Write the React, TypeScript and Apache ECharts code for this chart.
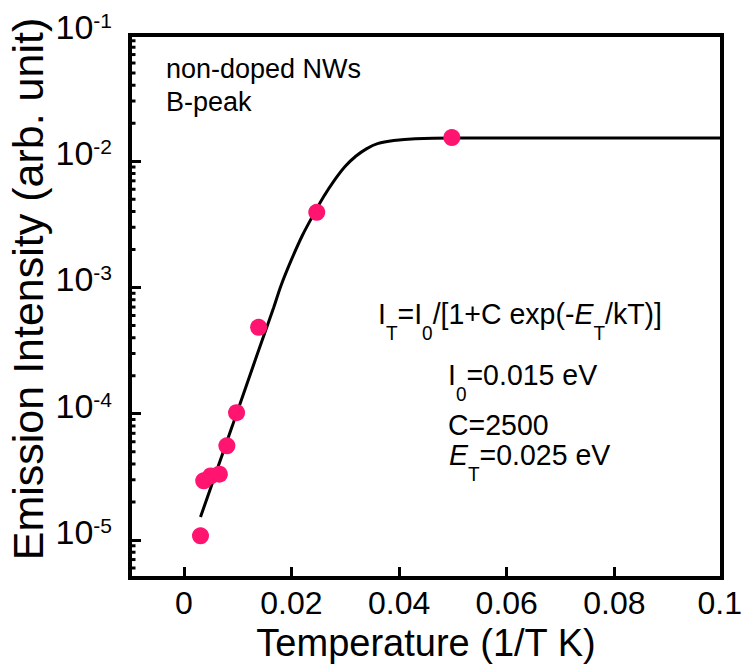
import React, { useEffect, useRef } from "react";
import * as echarts from "echarts";

const FONT = '"Liberation Sans", Arial, Helvetica, sans-serif';
const PINK = "#FF1470";

// axis ranges
const X_MIN = -0.01;
const X_MAX = 0.1;
const Y_MIN = 5e-6;
const Y_MAX = 0.1;

// tick values
const X_TICKS = [0, 0.02, 0.04, 0.06, 0.08, 0.1];
const X_TICK_LABELS = ["0", "0.02", "0.04", "0.06", "0.08", "0.1"];
const Y_MINOR_TICKS = [
  6e-6, 7e-6, 8e-6, 9e-6,
  2e-5, 3e-5, 4e-5, 5e-5, 6e-5, 7e-5, 8e-5, 9e-5,
  2e-4, 3e-4, 4e-4, 5e-4, 6e-4, 7e-4, 8e-4, 9e-4,
  2e-3, 3e-3, 4e-3, 5e-3, 6e-3, 7e-3, 8e-3, 9e-3,
  2e-2, 3e-2, 4e-2, 5e-2, 6e-2, 7e-2, 8e-2, 9e-2,
];

// measured points
const POINT_X = [0.0031, 0.0037, 0.005, 0.0066, 0.008, 0.0098, 0.0139, 0.0247, 0.0498];
const POINT_Y = [1.08e-5, 2.94e-5, 3.22e-5, 3.32e-5, 5.57e-5, 1.02e-4, 4.84e-4, 3.94e-3, 1.54e-2];

// fitted curve
const CURVE_X = [
  0.0031, 0.006, 0.009, 0.012, 0.015, 0.0167, 0.018, 0.02, 0.022, 0.024,
  0.026, 0.028, 0.03, 0.032, 0.034, 0.036, 0.039, 0.043, 0.05, 0.1,
];
const CURVE_Y = [
  1.52e-5, 3.44e-5, 7.98e-5, 1.86e-4, 4.32e-4, 6.93e-4, 1.02e-3, 1.66e-3, 2.57e-3, 3.72e-3,
  5.25e-3, 7.08e-3, 9.12e-3, 1.1e-2, 1.26e-2, 1.38e-2, 1.46e-2, 1.51e-2, 1.53e-2, 1.53e-2,
];

const X_TITLE = "Temperature (1/T K)";
const Y_TITLE = "Emission Intensity (arb. unit)";

export default function App() {
  const ref = useRef<HTMLDivElement>(null);

  useEffect(() => {
    if (!ref.current) return;
    const chart = echarts.init(ref.current, null, { renderer: "svg" });

    const richMain = { fontSize: 30, lineHeight: 33, fontFamily: FONT, color: "#000", verticalAlign: "top" };
    const richItal = { ...richMain, fontStyle: "italic" };
    const richSub = { fontSize: 20, lineHeight: 20, fontFamily: FONT, color: "#000", verticalAlign: "top", padding: [24, 0, 0, 0] };

    const option: any = {
      animation: false,
      backgroundColor: "#fff",
      grid: {
        left: 130,
        right: 20,
        top: 35,
        bottom: 86,
        show: true,
        borderColor: "#000",
        borderWidth: 4,
        backgroundColor: "transparent",
        containLabel: false,
        outerBoundsMode: "none",
      },
      xAxis: {
        type: "value",
        min: X_MIN,
        max: X_MAX,
        name: X_TITLE,
        nameLocation: "middle",
        nameGap: 42,
        nameTextStyle: { fontFamily: FONT, fontSize: 38, color: "#000" },
        axisLine: { show: true, onZero: false, lineStyle: { color: "#000", width: 4 } },
        axisTick: { show: true, inside: true, length: 11, lineStyle: { color: "#000", width: 3 }, customValues: X_TICKS },
        axisLabel: {
          customValues: X_TICKS,
          margin: 9,
          fontFamily: FONT,
          fontSize: 32,
          color: "#000",
          formatter: (v: number) => {
            const i = X_TICKS.findIndex((t) => Math.abs(t - v) < 1e-9);
            if (i < 0) return "";
            if (i === X_TICKS.length - 1) return "{r|" + X_TICK_LABELS[i] + "}";
            return X_TICK_LABELS[i];
          },
          rich: {
            r: { fontFamily: FONT, fontSize: 32, color: "#000", width: 40, align: "right" },
          },
        },
        splitLine: { show: false },
      },
      yAxis: {
        type: "log",
        logBase: 10,
        min: Y_MIN,
        max: Y_MAX,
        axisLine: { show: true, onZero: false, lineStyle: { color: "#000", width: 4 } },
        axisTick: { show: true, inside: true, length: 11, lineStyle: { color: "#000", width: 3 } },
        minorTick: { show: false },
        splitLine: { show: false },
        axisLabel: {
          showMinLabel: false,
          margin: 18,
          padding: [0, 0, 16, 0],
          formatter: (v: number) => {
            const e = Math.round(Math.log10(v));
            if (Math.abs(Math.log10(v) - e) > 1e-6) return "";
            return "{a|10}{b|" + e + "}";
          },
          rich: {
            a: { fontFamily: FONT, fontSize: 34, lineHeight: 34, color: "#000", verticalAlign: "bottom", padding: [6, 0, 0, 0] },
            b: { fontFamily: FONT, fontSize: 21, lineHeight: 21, color: "#000", verticalAlign: "top" },
          },
        },
      },
      series: [
        {
          type: "custom",
          silent: true,
          clip: false,
          z: 5,
          data: Y_MINOR_TICKS.map((v) => [X_MIN, v]),
          renderItem: (params: any, api: any) => {
            const p = api.coord([api.value(0), api.value(1)]);
            return {
              type: "line",
              shape: { x1: p[0], y1: p[1], x2: p[0] + 5.5, y2: p[1] },
              style: { stroke: "#000", lineWidth: 3 },
            };
          },
        },
        {
          type: "line",
          data: CURVE_X.map((x, i) => [x, CURVE_Y[i]]),
          showSymbol: false,
          smooth: 0.3,
          lineStyle: { color: "#000", width: 3 },
          z: 2,
          silent: true,
        },
        {
          type: "scatter",
          data: POINT_X.map((x, i) => [x, POINT_Y[i]]),
          symbol: "circle",
          symbolSize: 17,
          itemStyle: { color: PINK, opacity: 1 },
          z: 3,
          silent: true,
        },
      ],
      graphic: [
        {
          type: "text",
          rotation: Math.PI / 2,
          x: 28,
          y: 289,
          style: {
            text: Y_TITLE,
            fontFamily: FONT,
            fontSize: 43,
            fill: "#000",
            align: "center",
            verticalAlign: "middle",
          },
        },
        {
          type: "text",
          x: 166,
          y: 52,
          style: {
            text: "non-doped NWs\nB-peak",
            fontFamily: FONT,
            fontSize: 27,
            lineHeight: 33,
            fill: "#000",
            align: "left",
            verticalAlign: "top",
          },
        },
        {
          type: "text",
          x: 378,
          y: 299,
          scaleX: 0.95,
          style: {
            text: "{n|I}{s|T}{n|=I}{s|0}{n|/[1+C exp(-}{i|E}{s|T}{n|/kT)]}",
            rich: { n: richMain, s: richSub, i: richItal },
            align: "left",
            verticalAlign: "top",
          },
        },
        {
          type: "text",
          x: 448,
          y: 360,
          scaleX: 0.95,
          style: {
            text: "{n|I}{s|0}{n|=0.015 eV}",
            rich: { n: richMain, s: richSub },
            align: "left",
            verticalAlign: "top",
          },
        },
        {
          type: "text",
          x: 448,
          y: 408,
          scaleX: 0.95,
          style: {
            text: "C=2500",
            fontFamily: FONT,
            fontSize: 30,
            lineHeight: 33,
            fill: "#000",
            align: "left",
            verticalAlign: "top",
          },
        },
        {
          type: "text",
          x: 449,
          y: 440,
          scaleX: 0.95,
          style: {
            text: "{i|E}{s|T}{n|=0.025 eV}",
            rich: { n: richMain, s: richSub, i: richItal },
            align: "left",
            verticalAlign: "top",
          },
        },
      ],
    };

    chart.setOption(option);
    return () => chart.dispose();
  }, []);

  return (
    <div
      ref={ref}
      style={{ position: "absolute", left: 0, top: 0, width: 742, height: 664, background: "#fff" }}
    />
  );
}
